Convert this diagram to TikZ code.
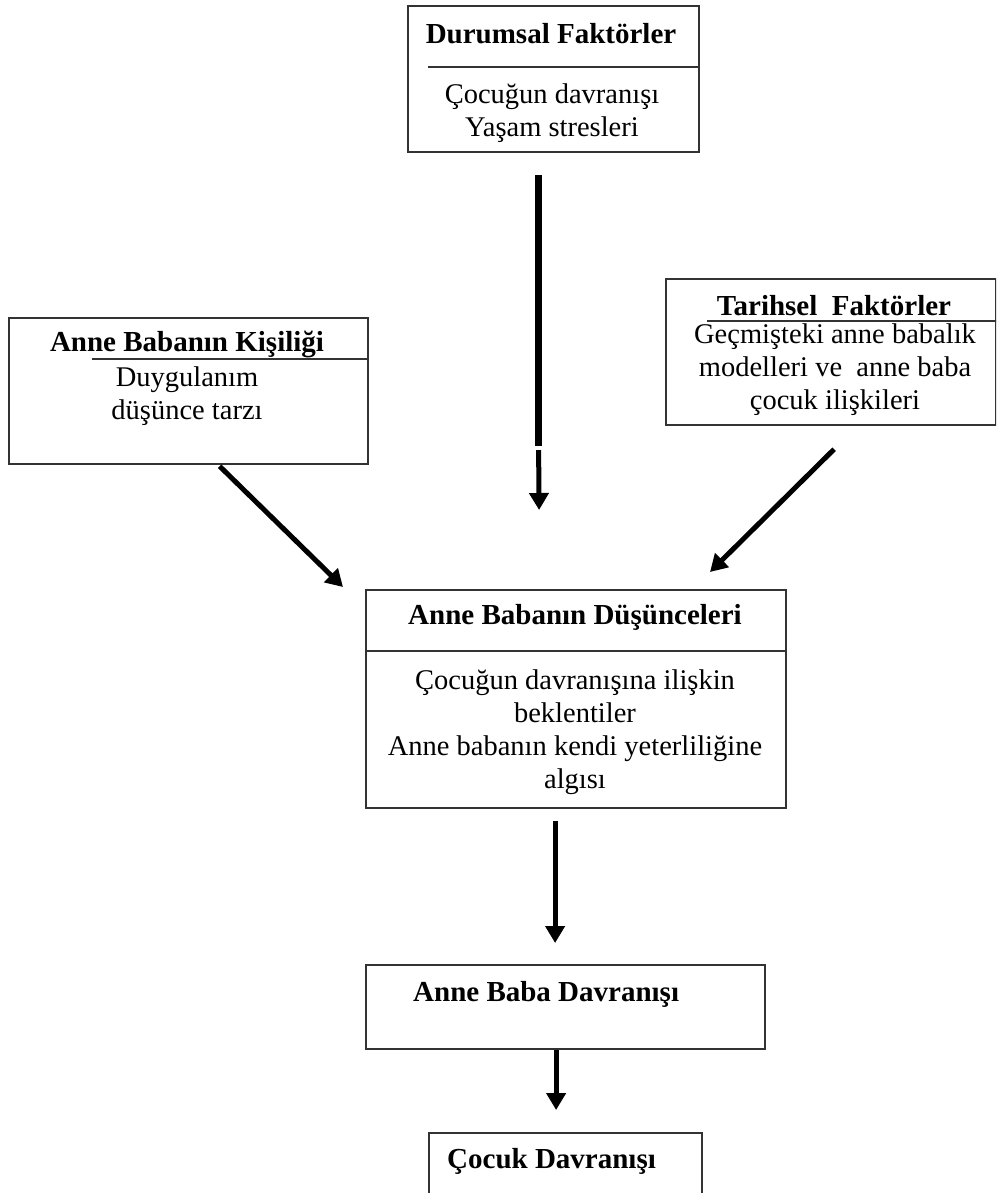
\documentclass[tikz,border=0pt]{standalone}
\usepackage{fontspec}
\setmainfont{Liberation Serif}
\usetikzlibrary{arrows.meta}
\usetikzlibrary{calc}

\tikzset{
  box/.style={draw=black!80, line width=2.2pt, inner sep=0pt, anchor=north west},
  head/.style={font=\fontsize{29}{33}\selectfont\bfseries, inner sep=0pt},
  body/.style={font=\fontsize{28.5}{33}\selectfont, align=center, inner sep=0pt},
  rule/.style={black!80, line width=2pt},
  arr/.style={line width=5pt, -{Triangle[length=17pt,width=19pt]}},
}

\begin{document}
\begin{tikzpicture}[x=1pt,y=-1pt]
      \clip (0,0) rectangle (996,1193);

      \node[box, minimum width=291pt, minimum height=146pt] (dur) at (407,5) {};
      \node[box, minimum width=359pt, minimum height=146pt] (kis) at (8,317) {};
      \node[box, minimum width=330pt, minimum height=146pt] (tar) at (665,278) {};
      \node[box, minimum width=420pt, minimum height=218pt] (dus) at (365,589) {};
      \node[box, minimum width=399pt, minimum height=84pt] (abd) at (365,964) {};
      \node[box, minimum width=273pt, minimum height=90pt] (coc) at (428,1132) {};

      \node[head] (dur-t) at (551,34) {Durumsal Faktörler};
      \node[body] (dur-b) at (552,113) {Çocuğun davranışı\\Yaşam stresleri};
      \draw[rule] (428,67) -- (dur.east |- 0,67);

      \node[head] (kis-t) at (187,344) {Anne Babanın Kişiliği};
      \node[body] (kis-b) at (187,396) {Duygulanım\\düşünce tarzı};
      \draw[rule] (92,359) -- (kis.east |- 0,359);

      \node[head] (tar-t) at (834,306) {Tarihsel\ \ Faktörler};
      \node[body] (tar-b) at (835,370) {Geçmişteki anne babalık\\modelleri ve\ \ anne baba\\çocuk ilişkileri};
      \draw[rule] (707,321) -- (tar.east |- 0,321);

      \node[head] (dus-t) at (575,617) {Anne Babanın Düşünceleri};
      \node[body] (dus-b) at (575,732) {Çocuğun davranışına ilişkin\\beklentiler\\Anne babanın kendi yeterliliğine\\algısı};
      \draw[rule] (dus.west |- 0,651) -- (dus.east |- 0,651);

      \node[head, anchor=west] (abd-t) at (413,994) {Anne Baba Davranışı};
      \node[head, anchor=west] (coc-t) at (447,1161) {Çocuk Davranışı};

      \draw[line width=7pt] ($(dur.south)+(-15,22)$) -- ($(dur.south)+(-15,293)$);
      \draw[arr] ($(dur.south)+(-15,297)$) -- ($(dus.north)+(-37,-79)$);
      \draw[arr] ($(kis.south)+(31,1)$) -- ($(dus.north west)+(-22,-2)$);
      \draw[arr] ($(tar.south)+(3,23)$) -- ($(dus.north west)+(345,-17)$);
      \draw[arr] ($(dus.south)+(-21,12)$) -- ($(abd.north)+(-10.5,-21)$);
      \draw[arr] ($(abd.south)+(-9.5,0)$) -- ($(coc.north)+(-9.5,-22)$);
\end{tikzpicture}
\end{document}
